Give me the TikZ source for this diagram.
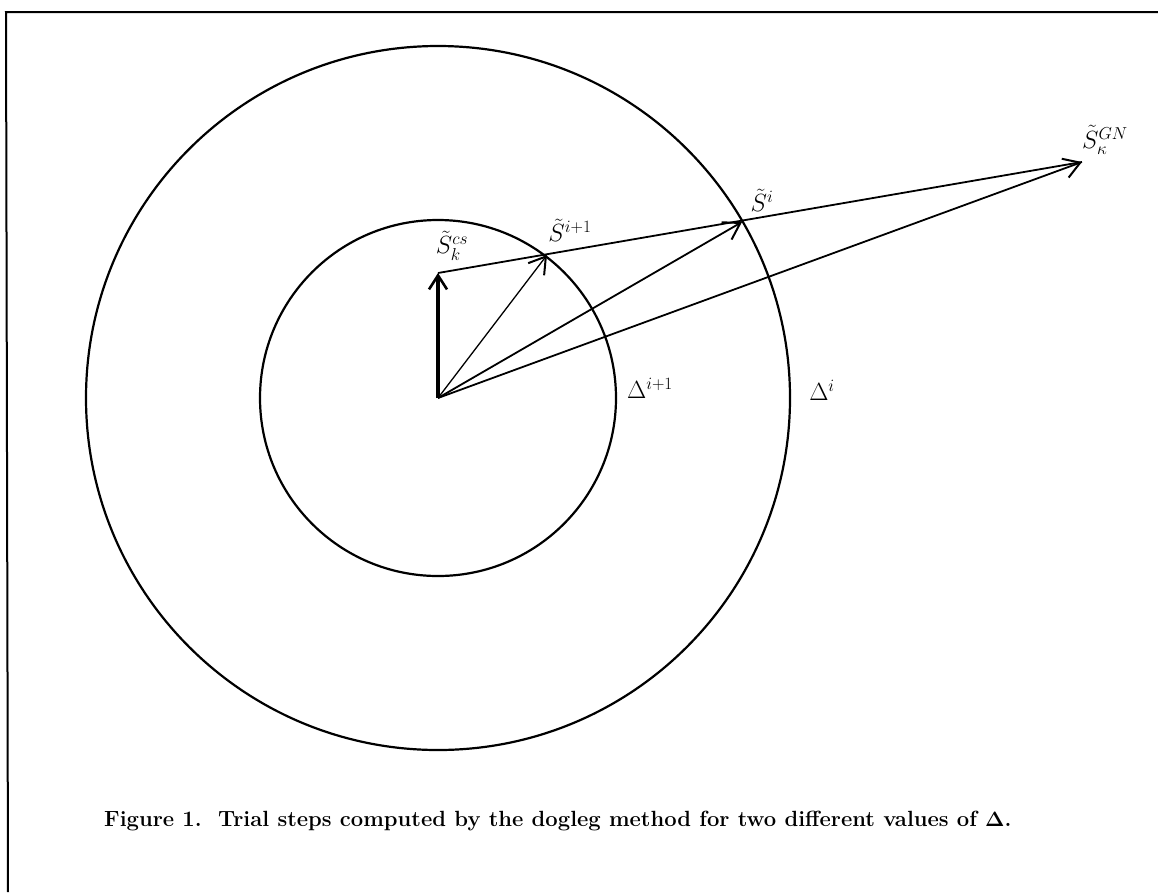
\documentclass[tikz,border=0pt]{standalone}
\usepackage{amsmath}
\usetikzlibrary{arrows.meta}
\begin{document}
\begin{tikzpicture}[x=1pt,y=-1pt,
  circ/.style={line width=2.2pt},
  vec/.style={line width=1.8pt,-{Straight Barb[length=16pt,width=20pt,line width=2pt]}},
  thinvec/.style={line width=1.3pt,-{Straight Barb[length=16pt,width=20pt,line width=2pt]}},
  lbl/.style={inner sep=0pt,font=\fontsize{26}{30}\selectfont},
  frame/.style={line width=2pt}]
\useasboundingbox (0,0) rectangle (1158,892);
% frame
\coordinate (fl) at (8,892);
\coordinate (ftl) at (6,12);
\coordinate (ftr) at (1158,12);
\draw[frame] (fl) -- (ftl) -- (ftr);
% points
\coordinate (O) at (438,398);
\coordinate (CS) at (438,273);
\coordinate (Si1) at (547,255);
\coordinate (Si) at (742,222);
\coordinate (GN) at (1082,162);
% circles
\draw[circ] (O) circle[radius=178];
\draw[circ] (O) circle[radius=352];
% dogleg path
\draw[line width=1.8pt] (CS) -- (GN);
% vectors
\draw[line width=3.2pt,-{Straight Barb[length=14pt,width=18pt,line width=2.6pt]}] (O) -- (CS);
\draw[thinvec] (O) -- (Si1);
\draw[vec] (O) -- (Si);
\draw[vec] (O) -- (GN);
% labels
\node[lbl] (lcs) at (452,246) {$\tilde S_k^{cs}$};
\node[lbl] (lsi1) at (570,230) {$\tilde S^{i+1}$};
\node[lbl] (lsi) at (762,200) {$\tilde S^{i}$};
\node[lbl] (lgn) at (1105,140) {$\tilde S_\kappa^{GN}$};
\node[lbl] (ldi1) at (650,388) {$\Delta^{i+1}$};
\node[lbl] (ldi) at (822,390) {$\Delta^{i}$};
% caption
\node[anchor=base west,inner sep=0pt,font=\fontsize{22}{26}\selectfont\bfseries] (cap) at (104,826)
  {Figure 1.\ \ Trial steps computed by the dogleg method for two different values of $\boldsymbol{\Delta}$.};
\end{tikzpicture}
\end{document}
